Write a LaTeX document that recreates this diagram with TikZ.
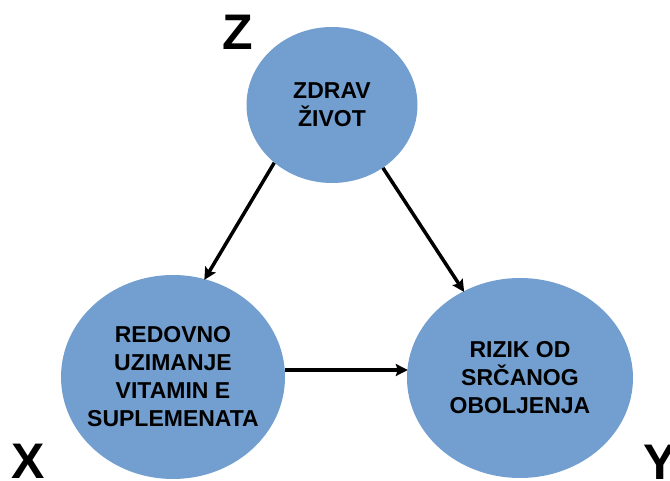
\documentclass[tikz,border=0pt]{standalone}
\usepackage{fontspec}
\setmainfont{Liberation Sans}
\usetikzlibrary{shapes.geometric,arrows.meta}
\definecolor{nodeblue}{HTML}{729FCF}
\tikzset{
  blob/.style={ellipse, fill=nodeblue, inner sep=0pt},
  blobtext/.style={align=center, inner sep=0pt, font=\fontsize{23}{28}\selectfont\bfseries},
  varlabel/.style={font=\fontsize{50}{50}\selectfont\bfseries, inner sep=0pt},
  arr/.style={line width=3.5pt, -{Stealth[length=12pt,width=12pt,inset=2pt]}, shorten >=-1pt}
}
\begin{document}
\begin{tikzpicture}[x=1pt,y=1pt]
\useasboundingbox (0,0) rectangle (670,481);
\node[blob, minimum width=171pt, minimum height=156pt] (z) at (332,376) {};
\node[blob, minimum width=224pt, minimum height=204pt] (x) at (173,104) {};
\node[blob, minimum width=226pt, minimum height=200pt] (y) at (520,103) {};
\node[blobtext] (zt) at (z.center) {ZDRAV\\ŽIVOT};
\node[blobtext] (xt) at (x.center) {REDOVNO\\UZIMANJE\\VITAMIN E\\SUPLEMENATA};
\node[blobtext] (yt) at (y.center) {RIZIK OD\\SRČANOG\\OBOLJENJA};
\node[varlabel] (zl) at (238,449) {Z};
\node[varlabel] (xl) at (28,20) {X};
\node[varlabel] (yl) at (660,19) {Y};
\draw[arr] (z.225) -- (x.72);
\draw[arr] (z.-51) -- (y.123);
\draw[arr] (x.east |- 0,111) -- (y.west |- 0,111);
\end{tikzpicture}
\end{document}
